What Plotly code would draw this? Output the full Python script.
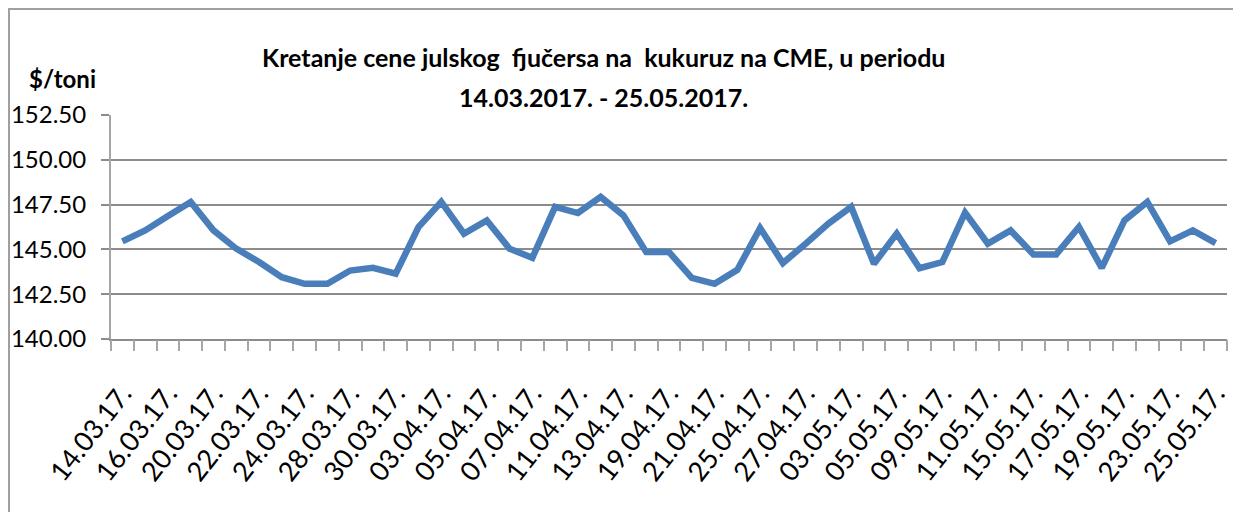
import plotly.graph_objects as go

dates = ["14.03.17.", "15.03.17.", "16.03.17.", "17.03.17.", "20.03.17.", "21.03.17.", "22.03.17.",
         "23.03.17.", "24.03.17.", "27.03.17.", "28.03.17.", "29.03.17.", "30.03.17.", "31.03.17.",
         "03.04.17.", "04.04.17.", "05.04.17.", "06.04.17.", "07.04.17.", "10.04.17.", "11.04.17.",
         "12.04.17.", "13.04.17.", "18.04.17.", "19.04.17.", "20.04.17.", "21.04.17.", "24.04.17.",
         "25.04.17.", "26.04.17.", "27.04.17.", "28.04.17.", "03.05.17.", "04.05.17.", "05.05.17.",
         "08.05.17.", "09.05.17.", "10.05.17.", "11.05.17.", "12.05.17.", "15.05.17.", "16.05.17.",
         "17.05.17.", "18.05.17.", "19.05.17.", "22.05.17.", "23.05.17.", "24.05.17.", "25.05.17."]

prices = [145.45, 146.06, 146.87, 147.65, 146.06, 145.04, 144.30, 143.45, 143.08, 143.08,
          143.82, 143.97, 143.64, 146.25, 147.65, 145.88, 146.62, 145.04, 144.53, 147.37,
          147.03, 147.93, 146.90, 144.85, 144.85, 143.41, 143.08, 143.86, 146.19, 144.24,
          145.32, 146.44, 147.37, 144.20, 145.88, 143.95, 144.29, 147.05, 145.32, 146.06,
          144.72, 144.72, 146.25, 143.97, 146.62, 147.65, 145.45, 146.06, 145.35]

y_ticks = [140.0, 142.5, 145.0, 147.5, 150.0, 152.5]

title_line1 = "Kretanje cene julskog  fjučersa na  kukuruz na CME, u periodu"
title_line2 = "14.03.2017. - 25.05.2017."
y_unit = "$/toni"

shown_labels = dates[::2]
boundaries = [i - 0.5 for i in range(len(dates) + 1)]

FONT = "Lato, Carlito, Calibri, sans-serif"
GRID = "#8c8c8c"

# page has an 8px body margin; figure is sized to fill the rest of the window
W, H = 1233, 504
ML, MR, MT, MB = 103, 14, 107, 173
PW, PH = W - ML - MR, H - MT - MB


def px(x):  # page x pixel -> paper coordinate
    return (x - 8 - ML) / PW


def py(y):  # page y pixel -> paper coordinate
    return (MT + PH - (y - 8)) / PH


fig = go.Figure()
fig.add_trace(go.Scatter(
    x=dates, y=prices, mode="lines",
    line=dict(color="#4a7ebb", width=6.5),
    hoverinfo="x+y", showlegend=False,
))
# invisible trace to draw category-boundary tick marks on an overlay axis
fig.add_trace(go.Scatter(
    x=[boundaries[0], boundaries[-1]], y=[y_ticks[0], y_ticks[0]], xaxis="x2",
    mode="lines", line=dict(width=0), hoverinfo="skip", showlegend=False,
))

fig.update_layout(
    width=W, height=H,
    margin=dict(l=ML, r=MR, t=MT, b=MB),
    paper_bgcolor="white", plot_bgcolor="white",
    font=dict(family=FONT, color="black"),
    xaxis=dict(
        type="category", categoryorder="array", categoryarray=dates,
        range=[-0.5, len(dates) - 0.5],
        tickmode="array", tickvals=shown_labels, ticktext=shown_labels,
        ticks="", tickangle=-52, tickfont=dict(size=27, family=FONT),
        ticklabelstandoff=26, automargin=False,
        showgrid=False, showline=True, linecolor=GRID, linewidth=2,
        zeroline=False,
    ),
    xaxis2=dict(
        overlaying="x", anchor="y", side="bottom",
        range=[boundaries[0], boundaries[-1]],
        tickmode="array", tickvals=boundaries, showticklabels=False,
        ticks="outside", ticklen=11, tickwidth=2, tickcolor="#a6a6a6",
        showgrid=False, showline=False, zeroline=False, automargin=False,
    ),
    yaxis=dict(
        range=[y_ticks[0], y_ticks[-1]],
        tickmode="array", tickvals=y_ticks,
        ticktext=[f"{v:.2f}" for v in y_ticks],
        ticks="outside", ticklen=8, tickwidth=2, tickcolor=GRID,
        tickfont=dict(size=24, family=FONT),
        ticklabelstandoff=10, automargin=False,
        showgrid=True, gridcolor=GRID, gridwidth=2,
        showline=True, linecolor="#a6a6a6", linewidth=2,
        zeroline=False,
    ),
    annotations=[
        dict(text=f"<b>{title_line1}</b>", xref="paper", yref="paper",
             x=px(603), y=py(57), showarrow=False,
             xanchor="center", yanchor="middle", font=dict(size=25, family=FONT)),
        dict(text=f"<b>{title_line2}</b>", xref="paper", yref="paper",
             x=px(603), y=py(97), showarrow=False,
             xanchor="center", yanchor="middle", font=dict(size=25, family=FONT)),
        dict(text=f"<b>{y_unit}</b>", xref="paper", yref="paper",
             x=px(27), y=py(78), showarrow=False,
             xanchor="left", yanchor="middle", font=dict(size=24, family=FONT)),
    ],
    shapes=[
        dict(type="rect", xref="paper", yref="paper",
             x0=px(9), x1=px(1260), y0=py(530), y1=py(9),
             line=dict(color="#a0a0a0", width=2), fillcolor="rgba(0,0,0,0)", layer="below"),
    ],
)

fig.write_html("out.html")
